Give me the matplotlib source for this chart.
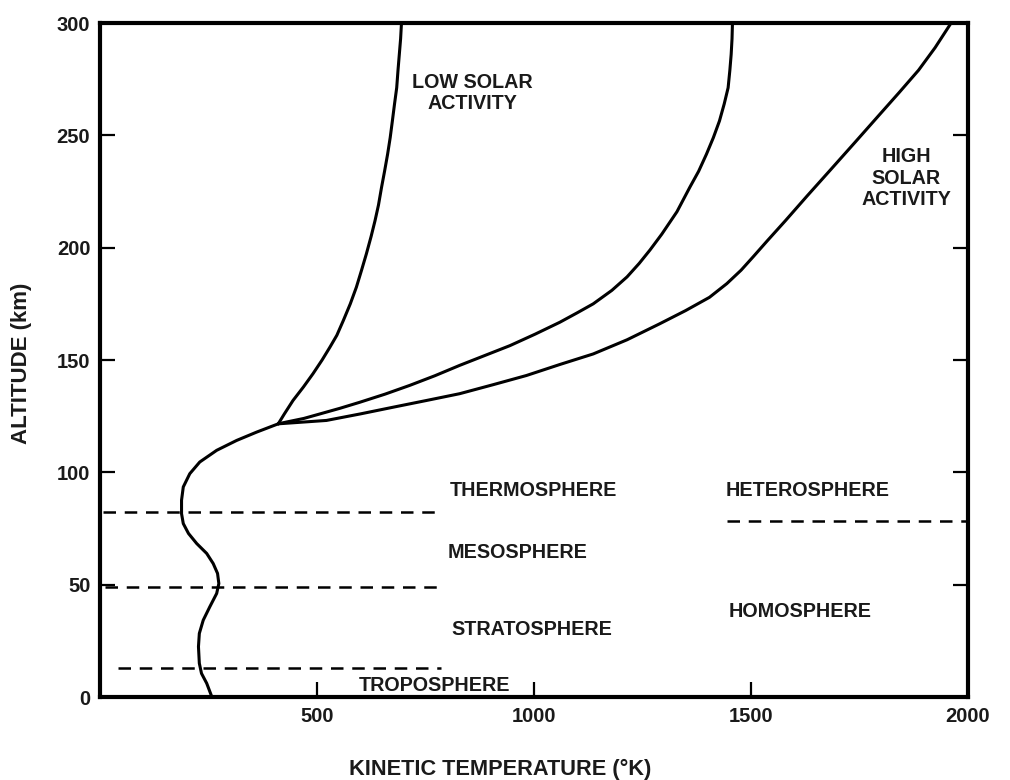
import matplotlib
matplotlib.use("Agg")
import matplotlib.pyplot as plt

plt.rcParams['font.family'] = ['Liberation Sans', 'DejaVu Sans']

# lower atmosphere profile up to the branch point (km, K)
alt_lower = [0, 6.1, 10.5, 15, 22.4, 28.3, 34.2, 40.1, 46.1, 50.5, 55, 59.4, 63.9,
             68.3, 72.8, 77.2, 81.6, 87.6, 93.5, 99.4, 104.6, 109.8, 114.2, 117.9, 121.6]
temp_lower = [258, 246, 234, 229, 227, 229, 238, 253, 269, 274, 271, 261, 246,
              223, 204, 192, 188, 188, 192, 207, 230, 269, 315, 361, 411]

# thermosphere branches, low / intermediate / high solar activity
alt_low = [121.6, 126, 132, 138, 143.9, 150, 155.7, 161, 167.6, 175, 182.4, 190, 197.2,
           205, 212, 219, 226.8, 234, 241.6, 249, 256.4, 264, 271.2, 279, 286, 293, 300]
temp_low = [411, 425, 445, 469, 491, 512, 530, 546, 561, 577, 591, 603, 614,
            625, 634, 642, 649, 656, 663, 669, 674, 679, 684, 687, 690, 693, 695]

alt_mid = [121.6, 122.4, 124, 126, 128.5, 131.2, 134.8, 138.7, 143, 147.6, 152, 156.4,
           161.5, 166.8, 171, 175, 181, 187, 193, 199, 206, 216, 227, 234,
           241.6, 249, 256.4, 264, 271.2, 279, 286, 293, 300]
temp_mid = [411, 430, 470, 507, 553, 599, 657, 714, 772, 829, 887, 945,
            1003, 1060, 1100, 1137, 1180, 1215, 1243, 1268, 1295, 1330, 1360, 1380,
            1398, 1414, 1428, 1439, 1448, 1452, 1455, 1457, 1458]

alt_high = [121.6, 123.1, 126, 129, 132, 135, 139, 143.1, 148, 152.7, 159, 166.1,
            172, 177.9, 184, 190, 196, 203, 212, 223, 234, 247, 259,
            269, 279, 289, 300]
temp_high = [411, 522, 600, 676, 753, 829, 906, 983, 1060, 1137, 1215, 1290,
             1350, 1405, 1445, 1478, 1506, 1538, 1580, 1630, 1681, 1741, 1796,
             1842, 1887, 1925, 1962]

# layer boundaries: altitude, start temp, end temp
layer_alt = [12.9, 48.9, 82.2]
layer_start = [41, 12, 7]
layer_end = [786, 786, 786]
hetero_alt = 78.5
hetero_start = 1445

fig = plt.figure(figsize=(10.1, 7.8), dpi=100)
ax = fig.add_axes([0.099, 0.1064, 0.859, 0.8641])

curve = dict(color='black', lw=2.2, solid_capstyle='round', solid_joinstyle='round')
ax.plot(temp_lower, alt_lower, **curve)
ax.plot(temp_low, alt_low, **curve)
ax.plot(temp_mid, alt_mid, **curve)
ax.plot(temp_high, alt_high, **curve)

dash = dict(color='black', lw=1.8, dashes=(5, 3.5))
for a, s, e in zip(layer_alt, layer_start, layer_end):
    ax.plot([s, e], [a, a], **dash)
ax.plot([hetero_start, 2000], [hetero_alt, hetero_alt], **dash)

ax.set_xlim(0, 2000)
ax.set_ylim(0, 300)

for sp in ax.spines.values():
    sp.set_linewidth(3)

ax.set_yticks([0, 50, 100, 150, 200, 250, 300])
ax.set_xticks([500, 1000, 1500, 2000])
ax.tick_params(direction='in', length=11, width=1.6, labelsize=14.5, pad=7,
               right=True, top=False)
for lab in ax.get_xticklabels() + ax.get_yticklabels():
    lab.set_fontweight('bold')
    lab.set_color('#1a1a1a')

txt = dict(fontsize=14.2, fontweight='bold', color='#1a1a1a', ha='center', va='center')
ax.text(859, 268.7, 'LOW SOLAR\nACTIVITY', linespacing=1.15, **txt)
ax.text(1859, 231, 'HIGH\nSOLAR\nACTIVITY', linespacing=1.15, **txt)
ax.text(1000, 92, 'THERMOSPHERE', **txt)
ax.text(963, 64.4, 'MESOSPHERE', **txt)
ax.text(995, 30.2, 'STRATOSPHERE', **txt)
ax.text(772, 4.9, 'TROPOSPHERE', **txt)
ax.text(1631, 92, 'HETEROSPHERE', **txt)
ax.text(1613, 38, 'HOMOSPHERE', **txt)

ax.set_xlabel('KINETIC TEMPERATURE (°K)', fontsize=15.7, fontweight='bold', color='#1a1a1a')
ax.set_ylabel('ALTITUDE (km)', fontsize=16, fontweight='bold', color='#1a1a1a')
ax.xaxis.set_label_coords(0.461, -0.092)
ax.yaxis.set_label_coords(-0.078, 0.495)

fig.savefig('out.png', dpi=100)
